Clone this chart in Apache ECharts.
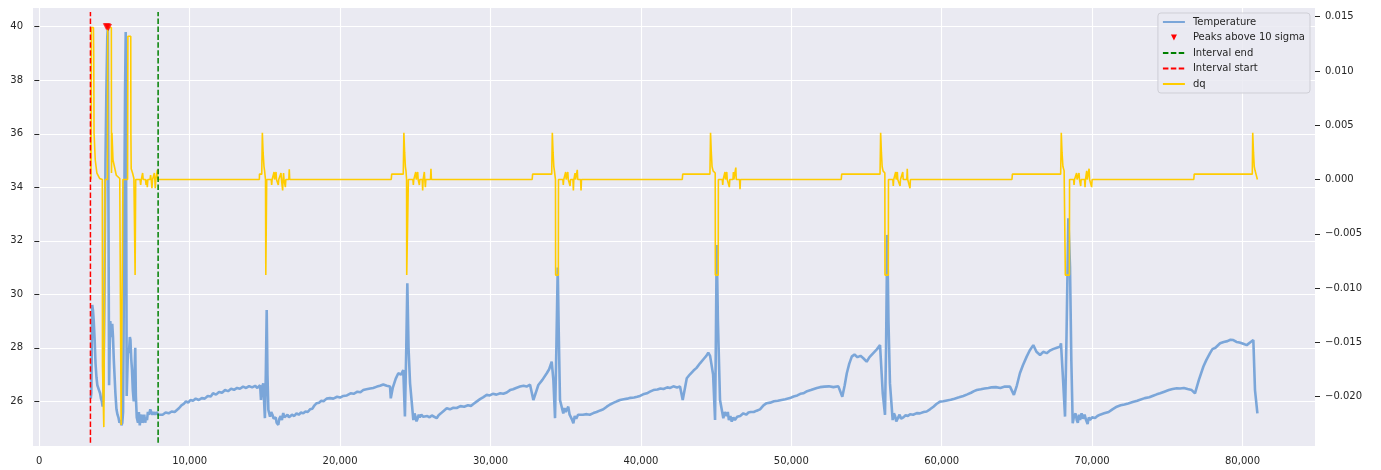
<!DOCTYPE html>
<html>
<head>
<meta charset="utf-8">
<script src="https://cdn.jsdelivr.net/npm/echarts@6/dist/echarts.min.js"></script>
<style>
  html, body { margin: 0; padding: 0; background: #fff; }
  #main { width: 1381px; height: 470px; }
</style>
</head>
<body>
<div id="main"></div>
<script>
// temperature readings [sample, degrees]
var temperature = [
  [3420, 26.1], [3460, 26.3], [3520, 29.6], [3570, 29.4], [3620, 29.0], [3680, 28.3], [3740, 27.4],
  [3800, 26.9], [3860, 26.6], [3920, 26.6], [3980, 26.4], [4040, 26.3], [4100, 26.1], [4160, 26.0],
  [4210, 25.8], [4260, 26.2], [4330, 30.0], [4400, 35.0], [4460, 37.6], [4520, 39.6], [4560, 40.0],
  [4600, 33.0], [4640, 26.6], [4680, 28.0], [4720, 29.0], [4760, 28.6], [4800, 28.4], [4850, 28.9],
  [4900, 28.4], [4950, 27.6], [5000, 27.0], [5060, 26.3], [5130, 25.7], [5200, 25.5], [5260, 25.4],
  [5330, 25.2], [5400, 25.3], [5460, 25.1], [5520, 25.2], [5570, 25.6], [5620, 30.0], [5660, 34.0],
  [5700, 37.5], [5745, 39.8], [5780, 33.0], [5810, 26.2], [5850, 27.0], [5900, 28.0], [5960, 27.8],
  [6020, 28.4], [6060, 28.3], [6110, 27.6], [6160, 27.2], [6220, 26.4], [6280, 26.0], [6330, 27.0],
  [6380, 28.0], [6420, 26.2], [6480, 25.4], [6560, 25.2], [6620, 25.6], [6680, 25.1], [6740, 25.4],
  [6800, 25.5], [6860, 25.2], [6920, 25.3], [6980, 25.5], [7040, 25.2], [7100, 25.4], [7160, 25.3],
  [7220, 25.6], [7300, 25.5], [7380, 25.7], [7440, 25.6], [7520, 25.5], [7600, 25.6], [7700, 25.5],
  [7800, 25.6], [7900, 25.5],
  [8000, 25.55], [8200, 25.5], [8400, 25.58], [8600, 25.55], [8800, 25.62], [9000, 25.6], [9130, 25.67],
  [9300, 25.75], [9450, 25.85], [9600, 25.9], [9750, 26.0], [9900, 25.95], [10050, 26.05], [10220, 26.02],
  [10400, 26.1], [10600, 26.05], [10800, 26.12], [11000, 26.1], [11200, 26.2], [11400, 26.18],
  [11550, 26.3], [11750, 26.25], [11950, 26.35], [12150, 26.32], [12350, 26.42], [12550, 26.38],
  [12750, 26.47], [12950, 26.43], [13150, 26.5], [13340, 26.47], [13550, 26.55], [13750, 26.5],
  [13950, 26.57], [14150, 26.52], [14350, 26.58], [14500, 26.5], [14680, 26.6],
  [14740, 26.05], [14800, 26.5], [14890, 26.67], [15000, 25.37], [15060, 27.0], [15120, 29.41],
  [15170, 27.0], [15230, 25.68],
  [15340, 25.43], [15420, 25.6], [15500, 25.5], [15580, 25.35], [15650, 25.3], [15720, 25.4],
  [15780, 25.2], [15890, 25.12], [15960, 25.35], [16050, 25.45], [16130, 25.3], [16220, 25.56],
  [16300, 25.4], [16400, 25.35], [16500, 25.5], [16600, 25.4], [16670, 25.45], [16800, 25.5],
  [16950, 25.45], [17100, 25.55], [17250, 25.5], [17400, 25.58], [17550, 25.55], [17700, 25.62],
  [17850, 25.6], [18000, 25.7], [18150, 25.72], [18300, 25.85], [18440, 25.93], [18600, 25.95],
  [18750, 26.02], [18900, 26.0], [19100, 26.1], [19330, 26.12], [19550, 26.1], [19800, 26.17],
  [20000, 26.14], [20210, 26.2], [20450, 26.22], [20700, 26.3], [20900, 26.28], [21150, 26.36],
  [21350, 26.34], [21540, 26.42], [21750, 26.45], [22000, 26.48], [22200, 26.5], [22450, 26.55],
  [22650, 26.58], [22870, 26.63], [23100, 26.58], [23320, 26.55],
  [23370, 26.11], [23500, 26.5], [23700, 26.85], [23870, 27.05], [24050, 27.0], [24200, 27.17],
  [24310, 25.43], [24400, 28.0], [24470, 30.41], [24550, 28.0], [24650, 26.68],
  [24870, 25.3], [24950, 25.55], [25000, 25.45], [25080, 25.25], [25150, 25.35], [25230, 25.5],
  [25300, 25.4], [25400, 25.5], [25530, 25.42], [25650, 25.35], [25800, 25.45], [25950, 25.4],
  [26100, 25.47], [26200, 25.4], [26420, 25.37], [26550, 25.48], [26700, 25.55], [26900, 25.65],
  [27090, 25.74], [27300, 25.7], [27530, 25.76], [27750, 25.75], [28000, 25.82], [28250, 25.8],
  [28500, 25.85], [28700, 25.83], [28860, 25.9], [29050, 25.98], [29300, 26.08], [29500, 26.15],
  [29750, 26.24], [29950, 26.22], [30150, 26.28], [30400, 26.25], [30650, 26.3], [30850, 26.28],
  [31080, 26.33], [31300, 26.42], [31500, 26.45], [31700, 26.5], [31960, 26.55], [32200, 26.58],
  [32400, 26.55], [32630, 26.62],
  [32850, 26.05], [33000, 26.3], [33180, 26.61], [33450, 26.8], [33740, 27.05], [33900, 27.2],
  [34070, 27.48], [34180, 26.8], [34290, 25.37], [34380, 28.0], [34470, 31.0], [34540, 28.5],
  [34620, 26.05], [34840, 25.55], [34920, 25.75], [35000, 25.6], [35170, 25.8], [35260, 25.5],
  [35350, 25.4], [35430, 25.3], [35510, 25.18], [35600, 25.45], [35700, 25.35], [35820, 25.5],
  [35950, 25.55], [36150, 25.5], [36400, 25.52], [36600, 25.5], [36840, 25.56], [37050, 25.6],
  [37300, 25.66], [37500, 25.7], [37730, 25.8], [37950, 25.88], [38200, 25.95], [38400, 26.0],
  [38610, 26.05], [38850, 26.08], [39100, 26.1], [39300, 26.13], [39550, 26.14], [39750, 26.17],
  [39940, 26.2], [40150, 26.26], [40400, 26.3], [40600, 26.36], [40830, 26.42], [41100, 26.44],
  [41300, 26.48], [41500, 26.46], [41750, 26.52], [41950, 26.5], [42160, 26.56], [42400, 26.52],
  [42600, 26.55],
  [42780, 26.05], [43050, 26.86], [43250, 27.0], [43500, 27.15], [43700, 27.25], [43930, 27.42],
  [44200, 27.6], [44350, 27.7], [44480, 27.82], [44600, 27.7], [44710, 27.75], [44800, 27.0],
  [44930, 25.3], [44980, 28.0], [45040, 31.84], [45120, 29.0], [45260, 26.05], [45480, 25.37],
  [45580, 25.6], [45700, 25.45], [45780, 25.6], [45850, 25.3], [45950, 25.45], [46040, 25.24],
  [46150, 25.4], [46250, 25.3], [46400, 25.42], [46600, 25.45], [46810, 25.55], [47000, 25.5],
  [47150, 25.58], [47300, 25.6], [47500, 25.6], [47700, 25.65], [47920, 25.7], [48150, 25.85],
  [48360, 25.93], [48600, 25.95], [48850, 26.0], [49100, 26.02], [49350, 26.05], [49600, 26.08],
  [49910, 26.12], [50150, 26.18], [50400, 26.22], [50600, 26.28], [50800, 26.3], [51050, 26.38],
  [51300, 26.42], [51500, 26.46], [51700, 26.5], [51910, 26.53], [52200, 26.55], [52500, 26.56],
  [52800, 26.53], [53130, 26.56],
  [53390, 26.17], [53550, 26.6], [53690, 27.05], [53850, 27.4], [54020, 27.67], [54200, 27.75],
  [54400, 27.65], [54600, 27.7], [54790, 27.61], [55010, 27.48], [55200, 27.65], [55450, 27.8],
  [55700, 27.95], [55900, 28.1], [56080, 26.3], [56230, 25.49], [56300, 28.0], [56380, 32.22],
  [56460, 29.0], [56560, 26.67],
  [56740, 25.3], [56820, 25.55], [56900, 25.45], [56980, 25.25], [57100, 25.3], [57200, 25.5],
  [57300, 25.35], [57450, 25.4], [57600, 25.48], [57750, 25.45], [57900, 25.52], [58100, 25.5],
  [58340, 25.56], [58550, 25.55], [58800, 25.6], [59000, 25.62], [59220, 25.7], [59450, 25.8],
  [59650, 25.9], [59890, 25.99], [60100, 26.0], [60350, 26.03], [60600, 26.06], [60850, 26.1],
  [61150, 26.15], [61440, 26.2], [61700, 26.26], [61950, 26.32], [62150, 26.38], [62330, 26.42],
  [62600, 26.45], [62850, 26.48], [63100, 26.5], [63300, 26.52], [63600, 26.53], [63900, 26.5],
  [64200, 26.55], [64540, 26.55],
  [64650, 26.42], [64800, 26.24], [65000, 26.6], [65200, 27.05], [65400, 27.35], [65650, 27.67],
  [65850, 27.9], [66090, 28.1], [66300, 27.85], [66540, 27.73], [66750, 27.85], [66980, 27.8],
  [67200, 27.9], [67400, 27.95], [67650, 28.0], [67870, 28.04], [67930, 28.17], [68050, 27.0],
  [68200, 25.43], [68300, 28.5], [68420, 32.84], [68530, 31.03], [68620, 27.5],
  [68710, 25.18], [68800, 25.45], [68900, 25.55], [68980, 25.3], [69050, 25.2], [69130, 25.5],
  [69200, 25.3], [69300, 25.55], [69400, 25.35], [69500, 25.5], [69600, 25.3], [69700, 25.15],
  [69780, 25.4], [69860, 25.3], [70000, 25.4], [70200, 25.38], [70350, 25.45], [70530, 25.5],
  [70800, 25.55], [71100, 25.6], [71350, 25.7], [71640, 25.8], [71900, 25.85], [72150, 25.88],
  [72400, 25.92], [72700, 25.97], [73000, 26.02], [73190, 26.06], [73500, 26.12], [73800, 26.15],
  [74100, 26.22], [74300, 26.26], [74520, 26.3], [74800, 26.36], [75100, 26.42], [75350, 26.46],
  [75630, 26.49], [75850, 26.48], [76100, 26.5], [76350, 26.46], [76620, 26.42],
  [76840, 26.3], [77100, 26.8], [77400, 27.3], [77600, 27.55], [77840, 27.8], [78000, 27.95],
  [78200, 28.0], [78510, 28.17], [78750, 28.22], [79000, 28.25], [79200, 28.3], [79390, 28.29],
  [79600, 28.22], [79800, 28.2], [80050, 28.15], [80280, 28.1], [80500, 28.2], [80720, 28.29],
  [80830, 26.42], [80990, 25.55]
];

// dq on the right axis [sample, dq]
var dq = [
  [3420, 0.0043], [3440, 0.0], [3460, 0.014], [3600, 0.014], [3620, 0.0115], [3640, 0.0043],
  [3720, 0.0018], [3830, 0.0006], [4010, 0.0001], [4190, 0.0], [4200, -0.0172], [4270, -0.0172],
  [4290, -0.0228], [4360, -0.0228], [4380, 0.0], [4530, 0.0], [4550, 0.014], [4790, 0.014],
  [4800, 0.0006], [4830, 0.0043], [4900, 0.0018], [5120, 0.0004], [5350, 0.0001], [5420, 0.0],
  [5440, -0.0226], [5540, -0.0226], [5560, 0.0], [5870, 0.0], [5890, 0.0132], [6080, 0.0132],
  [6090, 0.0042], [6110, 0.001], [6200, 0.0006], [6290, 0.0001], [6360, 0.0], [6370, -0.0088],
  [6400, -0.0088], [6410, 0.0], [6700, 0.0], [6740, -0.0005], [6780, 0.0], [6830, 0.0],
  [6870, 0.0006], [6910, 0.0], [7060, 0.0], [7100, -0.0005], [7140, 0.0], [7180, -0.0007],
  [7220, 0.0], [7360, 0.0], [7400, 0.0004], [7440, 0.0], [7490, -0.0008], [7530, 0.0], [7610, 0.0],
  [7650, 0.0006], [7680, 0.0], [7710, -0.0008], [7750, 0.0], [7820, 0.0], [7850, 0.0009], [7880, 0.0],
  [14630, 0.0], [14640, 0.0005], [14790, 0.0005], [14830, 0.0043], [14880, 0.0025], [14940, 0.0012],
  [14980, 0.0008], [15040, 0.0], [15060, -0.0088], [15110, -0.0088], [15120, 0.0], [15420, 0.0],
  [15450, -0.0005], [15480, 0.0], [15580, 0.0], [15610, 0.0007], [15640, 0.0], [15710, 0.0],
  [15740, 0.0007], [15770, 0.0], [15860, 0.0], [15890, -0.0005], [15920, 0.0], [16040, 0.0],
  [16070, 0.0006], [16100, 0.0], [16150, 0.0], [16180, -0.001], [16210, 0.0], [16240, 0.0006],
  [16270, 0.0], [16330, 0.0], [16360, -0.0007], [16390, 0.0], [16590, 0.0], [16620, 0.00095],
  [16650, 0.0],
  [23400, 0.0], [23430, 0.0005], [24200, 0.0005], [24240, 0.0043], [24290, 0.0025], [24340, 0.0012],
  [24380, 0.0008], [24420, 0.0], [24430, -0.0088], [24530, -0.0088], [24540, 0.0], [24840, 0.0],
  [24870, -0.0005], [24900, 0.0], [25000, 0.0], [25030, 0.0007], [25060, 0.0], [25130, 0.0],
  [25160, 0.0007], [25190, 0.0], [25240, 0.0], [25270, -0.0005], [25300, 0.0], [25460, 0.0],
  [25490, -0.001], [25520, 0.0], [25570, 0.0], [25600, 0.0007], [25630, 0.0], [25640, 0.0],
  [25670, -0.0007], [25700, 0.0], [26010, 0.0], [26040, 0.001], [26070, 0.0],
  [32770, 0.0], [32800, 0.0005], [34070, 0.0005], [34110, 0.0043], [34160, 0.0025], [34210, 0.0012],
  [34250, 0.0008], [34320, 0.0], [34330, -0.0088], [34510, -0.0088], [34520, 0.0], [34810, 0.0],
  [34840, -0.0005], [34870, 0.0], [34970, 0.0], [35000, 0.0007], [35030, 0.0], [35110, 0.0],
  [35140, 0.0007], [35170, 0.0], [35260, 0.0], [35290, -0.0006], [35320, 0.0], [35480, 0.0],
  [35510, -0.001], [35540, 0.0], [35590, 0.0], [35620, 0.0006], [35650, 0.0], [35740, 0.0],
  [35770, 0.0009], [35800, 0.0], [35990, 0.0], [36020, -0.001], [36050, 0.0],
  [42750, 0.0], [42780, 0.0005], [44590, 0.0005], [44630, 0.0043], [44680, 0.0025], [44730, 0.0012],
  [44800, 0.0008], [44940, 0.0006], [44950, -0.0088], [45140, -0.0088], [45150, 0.0], [45410, 0.0],
  [45440, -0.0005], [45470, 0.0], [45560, 0.0], [45590, 0.0007], [45620, 0.0], [45680, 0.0],
  [45710, 0.0007], [45740, 0.0], [45850, 0.0], [45880, -0.0007], [45910, 0.0], [46120, 0.0],
  [46150, 0.0007], [46180, 0.0], [46280, 0.0], [46310, 0.0011], [46340, 0.0], [46560, 0.0],
  [46590, -0.0009], [46620, 0.0],
  [53320, 0.0], [53350, 0.0005], [55900, 0.0005], [55940, 0.0043], [55990, 0.0025], [56040, 0.0012],
  [56100, 0.0008], [56220, 0.0006], [56230, -0.0088], [56450, -0.0088], [56460, 0.0], [56750, 0.0],
  [56780, -0.0006], [56810, 0.0], [56910, 0.0], [56940, 0.0007], [56970, 0.0], [57020, 0.0],
  [57050, 0.0007], [57080, 0.0], [57200, 0.0], [57230, -0.0006], [57260, 0.0], [57380, 0.0],
  [57410, 0.0007], [57440, 0.0], [57680, 0.0], [57710, 0.001], [57740, 0.0], [57860, 0.0],
  [57890, -0.0008], [57920, 0.0],
  [64670, 0.0], [64700, 0.0005], [67910, 0.0005], [67950, 0.0043], [68000, 0.0025], [68060, 0.0012],
  [68140, 0.0008], [68210, 0.0007], [68220, -0.0088], [68490, -0.0088], [68500, 0.0], [68770, 0.0],
  [68800, -0.0005], [68830, 0.0], [68940, 0.0], [68970, 0.0006], [69000, 0.0], [69100, 0.0],
  [69130, 0.0006], [69160, 0.0], [69210, 0.0], [69240, -0.0006], [69270, 0.0], [69500, 0.0],
  [69530, -0.0007], [69560, 0.0], [69610, 0.0], [69640, 0.0008], [69670, 0.0], [69770, 0.0],
  [69800, 0.001], [69830, 0.0], [69940, 0.0], [69970, -0.0007], [70000, 0.0],
  [76760, 0.0], [76790, 0.0005], [80650, 0.0005], [80680, 0.0043], [80730, 0.0025], [80780, 0.0012],
  [80830, 0.00085], [80990, 0.0]
];

var peaks = [[4450, 40.0], [4530, 40.0], [4600, 39.97]];
var intervalStart = 3400;
var intervalEnd = 7900;
var vlineSpan = [24.45, 40.55];

var xTicks = [0, 10000, 20000, 30000, 40000, 50000, 60000, 70000, 80000];
var leftTicks = [26, 28, 30, 32, 34, 36, 38, 40];
var rightTicks = [-0.02, -0.015, -0.01, -0.005, 0, 0.005, 0.01, 0.015];

var font = 'DejaVu Sans';
var ink = '#262626';

var myChart = echarts.init(document.getElementById('main'));

function vline(x) {
  return [[x, vlineSpan[0]], [x, vlineSpan[1]]];
}

var option = {
  animation: false,
  textStyle: { fontFamily: font },
  grid: {
    left: 33, right: 66, top: 8, bottom: 24,
    show: true, backgroundColor: '#eaeaf2', borderWidth: 0
  },
  legend: {
    orient: 'vertical',
    right: 71, top: 13,
    padding: [4, 5, 4, 4],
    itemWidth: 22, itemHeight: 10, itemGap: 5.5,
    backgroundColor: 'rgba(234,234,242,0.85)',
    borderColor: '#cfcfd6', borderWidth: 1, borderRadius: 3,
    itemStyle: { opacity: 0 }, // hide the marker dot on line icons
    textStyle: { color: ink, fontSize: 10, fontFamily: font, lineHeight: 10, padding: [0, 0, 0, 3] },
    data: [
      { name: 'Temperature' },
      { name: 'Peaks above 10 sigma', icon: 'path://M0,0 M2,2 L8,2 L5,8 Z M10,10', itemStyle: { opacity: 1, color: '#ff0000' } },
      { name: 'Interval end' },
      { name: 'Interval start' },
      { name: 'dq' }
    ]
  },
  xAxis: {
    type: 'value',
    min: -419, max: 84820,
    axisLine: { show: false },
    axisTick: { show: false, customValues: xTicks },
    axisLabel: {
      customValues: xTicks, color: ink, fontSize: 10, margin: 10,
      formatter: function (v) { return v.toLocaleString('en-US'); }
    },
    splitLine: { show: true, lineStyle: { color: '#ffffff', width: 1.1 } }
  },
  yAxis: [
    {
      type: 'value',
      min: 24.33, max: 40.70,
      axisLine: { show: false },
      axisTick: { show: true, length: 5, customValues: leftTicks, lineStyle: { color: ink, width: 1 } },
      axisLabel: { customValues: leftTicks, color: ink, fontSize: 10, margin: 10 },
      splitLine: { show: true, lineStyle: { color: '#ffffff', width: 1.1 } }
    },
    {
      type: 'value',
      position: 'right',
      min: -0.02454, max: 0.0158,
      axisLine: { show: false },
      axisTick: { show: true, length: 5, customValues: rightTicks, lineStyle: { color: ink, width: 1 } },
      axisLabel: {
        customValues: rightTicks, color: ink, fontSize: 10, margin: 10,
        formatter: function (v) {
          var s = Math.abs(v).toFixed(3);
          return (v < -1e-9 ? '\u2212' : '') + s;
        }
      },
      splitLine: { show: false }
    }
  ],
  series: [
    {
      name: 'Temperature', type: 'line', yAxisIndex: 0,
      data: temperature, symbol: 'none',
      lineStyle: { color: '#7ba6d9', width: 2.6 },
      itemStyle: { color: '#7ba6d9' },
      z: 2
    },
    {
      name: 'Peaks above 10 sigma', type: 'scatter', yAxisIndex: 0,
      data: peaks, symbol: 'triangle', symbolRotate: 180, symbolSize: 7,
      itemStyle: { color: '#ff0000' },
      z: 5
    },
    {
      name: 'Interval end', type: 'line', yAxisIndex: 0,
      data: vline(intervalEnd), symbol: 'none',
      lineStyle: { color: '#008000', width: 1.5, type: [5.5, 2.4] },
      itemStyle: { color: '#008000' },
      z: 4
    },
    {
      name: 'Interval start', type: 'line', yAxisIndex: 0,
      data: vline(intervalStart), symbol: 'none',
      lineStyle: { color: '#ff0000', width: 1.5, type: [5.5, 2.4] },
      itemStyle: { color: '#ff0000' },
      z: 4
    },
    {
      name: 'dq', type: 'line', yAxisIndex: 1,
      data: dq, symbol: 'none',
      lineStyle: { color: '#ffcc00', width: 1.6 },
      itemStyle: { color: '#ffcc00' },
      z: 3
    }
  ]
};

myChart.setOption(option);
</script>
</body>
</html>
